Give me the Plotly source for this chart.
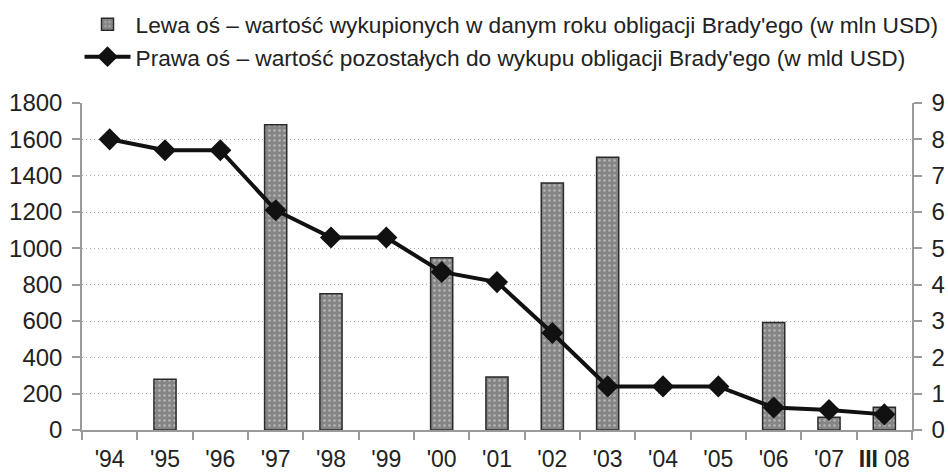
import plotly.graph_objects as go

categories = ["'94", "'95", "'96", "'97", "'98", "'99", "'00", "'01", "'02", "'03",
              "'04", "'05", "'06", "'07", "<b>III</b> 08"]
redeemed_mln = [None, 280, None, 1680, 750, None, 948, 292, 1360, 1502,
                None, None, 592, 70, 125]
remaining_mld = [8.0, 7.7, 7.7, 6.05, 5.3, 5.3, 4.35, 4.07, 2.67, 1.2,
                 1.2, 1.2, 0.62, 0.55, 0.43]
left_ticks = list(range(0, 1801, 200))
right_ticks = list(range(0, 10))

name_bar = "Lewa oś – wartość wykupionych w danym roku obligacji Brady'ego (w mln USD)"
name_line = "Prawa oś – wartość pozostałych do wykupu obligacji Brady'ego (w mld USD)"

FONT = "Liberation Sans, Arial, sans-serif"

fig = go.Figure()
fig.add_trace(go.Bar(
    x=categories, y=redeemed_mln, name=name_bar, width=0.4,
    marker=dict(color="#858585", line=dict(color="#2a2a2a", width=1.5),
                pattern=dict(shape=".", fgcolor="#e8e8e8", bgcolor="#858585",
                             size=5, solidity=0.2)),
    yaxis="y",
))
fig.add_trace(go.Scatter(
    x=categories, y=remaining_mld, name=name_line, mode="lines+markers",
    line=dict(color="#111111", width=4),
    marker=dict(symbol="diamond", size=17, color="#111111"),
    yaxis="y2",
))

axis_common = dict(
    showline=True, linecolor="#9a9a9a", linewidth=1.5,
    ticks="outside", ticklen=8, tickcolor="#9a9a9a", tickwidth=1.5,
    tickfont=dict(family=FONT, size=24, color="#222222"),
    automargin=False,
)

fig.update_layout(
    width=948, height=474,
    margin=dict(l=82, r=36, t=103, b=44, autoexpand=False),
    paper_bgcolor="white", plot_bgcolor="white",
    showlegend=True,
    legend=dict(x=-0.003, y=1.306, xanchor="left", yanchor="top",
                font=dict(family=FONT, size=22.7, color="#222222"),
                traceorder="normal", itemwidth=46, tracegroupgap=0,
                bgcolor="rgba(0,0,0,0)"),
    xaxis=dict(**axis_common, type="category", tickson="boundaries",
               range=[-0.5, 14.5], tickangle=0, ticklabelstandoff=8,
               showgrid=False),
    yaxis=dict(**axis_common, range=[0, 1800], tickvals=left_ticks,
               showgrid=True, gridcolor="#a8a8a8", griddash="1px,3px", gridwidth=1,
               zeroline=False, ticklabelstandoff=5),
    yaxis2=dict(**axis_common, range=[0, 9], tickvals=right_ticks,
                overlaying="y", side="right", showgrid=False, zeroline=False,
                ticklabelstandoff=5),
)
fig.update_xaxes(tickfont_size=23)

fig.write_html("out.html",
               config={"displayModeBar": False},
               post_script="document.body.style.margin='0';"
                           "document.body.style.overflow='hidden';")
